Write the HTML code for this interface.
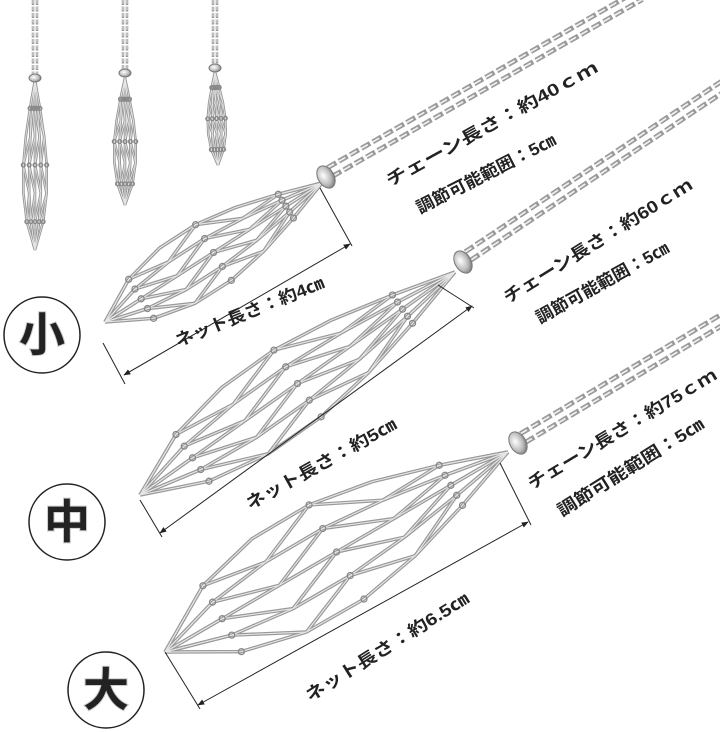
<!DOCTYPE html>
<html><head><meta charset="utf-8"><style>
html,body{margin:0;padding:0;background:#fff;}
svg{display:block}
text{font-family:"Liberation Sans","Noto Sans CJK JP",sans-serif;font-weight:bold;fill:#222}
</style></head><body>
<svg id="s" width="720" height="732" viewBox="0 0 720 732" xmlns="http://www.w3.org/2000/svg">
<defs>
<radialGradient id="bead" cx="40%" cy="40%" r="70%"><stop offset="0" stop-color="#fff"/><stop offset="0.6" stop-color="#bbb"/><stop offset="1" stop-color="#666"/></radialGradient>
<marker id="ar" viewBox="0 0 10 10" refX="9" refY="5" markerWidth="7" markerHeight="7" orient="auto-start-reverse"><path d="M0,1 L10,5 L0,9 z" fill="#222"/></marker>
</defs>
<g id="nets"></g>
<g id="chains"></g>
<ellipse cx="326" cy="177" rx="8" ry="12" fill="url(#bead)" stroke="#777" stroke-width="1" transform="rotate(-30 326 177)"/>
<ellipse cx="463" cy="262" rx="8" ry="12" fill="url(#bead)" stroke="#777" stroke-width="1" transform="rotate(-30 463 262)"/>
<ellipse cx="518" cy="443" rx="8" ry="12" fill="url(#bead)" stroke="#777" stroke-width="1" transform="rotate(-30 518 443)"/>
<g stroke="#222" stroke-width="1" fill="none">
<line x1="103" y1="343" x2="125" y2="384"/><line x1="320" y1="188" x2="352" y2="246"/>
<line x1="124" y1="375" x2="350" y2="244" marker-start="url(#ar)" marker-end="url(#ar)"/>
<line x1="140" y1="500" x2="162" y2="537"/><line x1="438" y1="285" x2="474" y2="308"/>
<line x1="160" y1="533" x2="472" y2="306" marker-start="url(#ar)" marker-end="url(#ar)"/>
<line x1="165" y1="652" x2="200" y2="709"/><line x1="500" y1="463" x2="531" y2="525"/>
<line x1="198" y1="705" x2="528" y2="522" marker-start="url(#ar)" marker-end="url(#ar)"/>
</g>
<g stroke="#222" stroke-width="1.5" fill="#fff">
<circle cx="42" cy="335" r="38"/><circle cx="67" cy="522" r="38"/><circle cx="106" cy="690" r="38"/>
</g>
<g font-size="46" text-anchor="middle" style="paint-order:stroke" stroke="#ccc" stroke-width="2">
<text x="42" y="351" fill="#333">小</text><text x="67" y="538" fill="#333">中</text><text x="106" y="706" fill="#333">大</text>
</g>
<g font-size="17">
<text x="390" y="187" transform="rotate(-29 390 187)" textLength="239" lengthAdjust="spacingAndGlyphs">チェーン長さ：約40ｃｍ</text>
<text x="420" y="214" transform="rotate(-27 420 214)" textLength="154" lengthAdjust="spacingAndGlyphs">調節可能範囲：5㎝</text>
<text x="508" y="304" transform="rotate(-32 508 304)" textLength="219" lengthAdjust="spacingAndGlyphs">チェーン長さ：約60ｃｍ</text>
<text x="540" y="324" transform="rotate(-29 540 324)" textLength="149" lengthAdjust="spacingAndGlyphs">調節可能範囲：5㎝</text>
<text x="532" y="490" transform="rotate(-31 532 490)" textLength="217" lengthAdjust="spacingAndGlyphs">チェーン長さ：約75ｃｍ</text>
<text x="562" y="517" transform="rotate(-32 562 517)" textLength="169" lengthAdjust="spacingAndGlyphs">調節可能範囲：5㎝</text>
<text x="178" y="347" transform="rotate(-22 178 347)" textLength="159" lengthAdjust="spacingAndGlyphs">ネット長さ：約4㎝</text>
<text x="250" y="510" transform="rotate(-29 250 510)" textLength="169" lengthAdjust="spacingAndGlyphs">ネット長さ：約5㎝</text>
<text x="310" y="702" transform="rotate(-32 310 702)" textLength="189" lengthAdjust="spacingAndGlyphs">ネット長さ：約6.5㎝</text>
</g>
</svg>
<script>
var NS="http://www.w3.org/2000/svg";
function el(p,n,a){var e=document.createElementNS(NS,n);for(var k in a)e.setAttribute(k,a[k]);p.appendChild(e);return e;}
var nets=document.getElementById('nets'),chains=document.getElementById('chains');
function net(ax,ay,bx,by,w,sw){
  var dx=bx-ax,dy=by-ay,L=Math.sqrt(dx*dx+dy*dy),ux=dx/L,uy=dy/L,px=-uy,py=ux;
  function pt(t,s){var o=s*w*Math.sin(Math.PI*Math.min(1,Math.pow(t,0.8)));return [ax+dx*t+px*o,ay+dy*t+py*o];}
  var S=[-1,-0.5,0,0.5,1],N=6,segs=[];
  for(var i=0;i<S.length;i++){var d="";for(var j=0;j<=N;j++){var p=pt(j/N,S[i]);d+=(j?"L":"M")+p[0].toFixed(1)+","+p[1].toFixed(1);}segs.push(d);}
  for(var j=1;j<N;j+=2){for(var i=0;i<S.length-1;i++){var a=pt(j/N,S[i]),b=pt((j+1)/N,S[i+1]),c=pt((j-1)/N,S[i+1]);segs.push("M"+c+"L"+a+"L"+b);}}
  segs.forEach(function(d){el(nets,"path",{d:d,fill:"none",stroke:"#999","stroke-width":sw+1,"stroke-linejoin":"round"});});
  segs.forEach(function(d){el(nets,"path",{d:d,fill:"none",stroke:"#e6e6e6","stroke-width":sw*0.45});});
  for(var j=1;j<N;j+=2){for(var i=0;i<S.length;i++){var p=pt(j/N,S[i]);el(nets,"circle",{cx:p[0],cy:p[1],r:sw*1.2,fill:"none",stroke:"#888","stroke-width":1.3});}}
}
function chain(x1,y1,x2,y2,off,sw){
  var dx=x2-x1,dy=y2-y1,L=Math.sqrt(dx*dx+dy*dy),px=-dy/L,py=dx/L;
  [-off,off].forEach(function(o){
    el(chains,"line",{x1:x1+px*o,y1:y1+py*o,x2:x2+px*o,y2:y2+py*o,stroke:"#999","stroke-width":sw,"stroke-dasharray":(sw*2)+" "+(sw*0.6)});
    el(chains,"line",{x1:x1+px*o,y1:y1+py*o,x2:x2+px*o,y2:y2+py*o,stroke:"#eee","stroke-width":sw*0.35,"stroke-dasharray":(sw*1.5)+" "+(sw*1.1)});
  });
}
net(105,322,322,183,34,2.5);
net(140,495,455,272,42,2.5);
net(165,652,508,452,56,2.5);
chain(330,172,640,-5,5,5);
chain(468,256,725,85,5,5);
chain(523,438,725,318,5,5);
chain(35,0,35,75,2,2.5);net(35,250,35,80,12,1.6);
chain(125,0,125,70,2,2.5);net(125,205,125,78,11,1.6);
chain(215,0,215,65,2,2.5);net(218,165,215,72,9,1.6);
[[35,78],[125,73],[215,68]].forEach(function(p){el(chains,"ellipse",{cx:p[0],cy:p[1],rx:6,ry:4,fill:"url(#bead)",stroke:"#777"});});
</script>
</body></html>
